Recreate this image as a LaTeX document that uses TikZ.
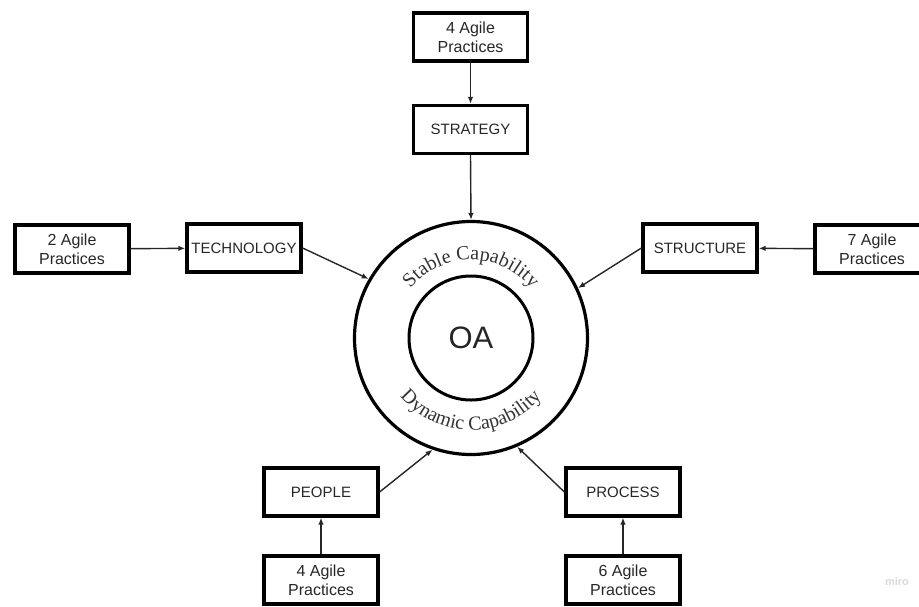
\documentclass[tikz,border=0pt]{standalone}
\usepackage{fontspec}
\setmainfont{Liberation Sans}
\newfontfamily\serifcurva{Liberation Serif}
\usetikzlibrary{arrows.meta,decorations.text}

\tikzset{
  caja/.style={draw, line width=3.2pt, minimum width=114pt, minimum height=48pt,
    inner sep=0pt, align=center, text=black!85, font=\fontsize{15}{18.5}\selectfont},
  cajaagil/.style={caja, font=\fontsize{16}{19}\selectfont},
  flecha/.style={-{Latex[length=7pt,width=5.5pt]}, line width=1.4pt, black!85},
}

\begin{document}
\begin{tikzpicture}[x=1pt, y=-1pt]
\useasboundingbox (0,0) rectangle (919,606);

% Anillo central
\node[circle, draw, line width=3.2pt, minimum size=233pt, inner sep=0pt] (anillo) at (471,338) {};
\node[circle, draw, line width=3pt, minimum size=124pt, inner sep=0pt,
  text=black!85, font=\fontsize{31}{31}\selectfont] (oa) at (471,338) {OA};

% Texto curvo
\path[decorate, decoration={text along path, text align=center,
  text={|\serifcurva\fontsize{20}{20}\selectfont\color{black!80}|Stable Capability}}]
  (anillo.center) ++(160:78pt) arc[start angle=160, end angle=20, radius=78pt];
\path[decorate, decoration={text along path, text align=center,
  text={|\serifcurva\fontsize{20}{20}\selectfont\color{black!80}|Dynamic Capability}}]
  (anillo.center) ++(200:92pt) arc[start angle=200, end angle=340, radius=92pt];

% Cajas
\node[cajaagil] (agileN) at (470.5,37) {4 Agile\\Practices};
\node[caja] (estrategia) at (470.5,129.5) {STRATEGY};
\node[cajaagil] (agileO) at (72,249) {2 Agile\\Practices};
\node[caja] (tecnologia) at (244,248) {TECHNOLOGY};
\node[caja] (estructura) at (700,248) {STRUCTURE};
\node[cajaagil] (agileE) at (872,249) {7 Agile\\Practices};
\node[caja] (personas) at (321,492) {PEOPLE};
\node[cajaagil] (agileSO) at (321,580) {4 Agile\\Practices};
\node[caja] (proceso) at (623,492) {PROCESS};
\node[cajaagil] (agileSE) at (623,580) {6 Agile\\Practices};

% Flechas
\draw[flecha] (agileN) -- (estrategia);
\draw[flecha] (estrategia.south) -- (anillo.north);
\draw[flecha] (agileO) -- (tecnologia);
\draw[flecha] (tecnologia.east) -- (anillo.150);
\draw[flecha] (agileE) -- (estructura);
\draw[flecha] (estructura.west) -- (anillo.25);
\draw[flecha] (agileSO) -- (personas);
\draw[flecha] (personas.east) -- (anillo.251);
\draw[flecha] (agileSE) -- (proceso);
\draw[flecha] (proceso.west) -- (anillo.293);

% Marca
\node[text=gray!30, font=\fontsize{11}{11}\selectfont\bfseries] (marca) at (897,582) {miro};
\end{tikzpicture}
\end{document}
